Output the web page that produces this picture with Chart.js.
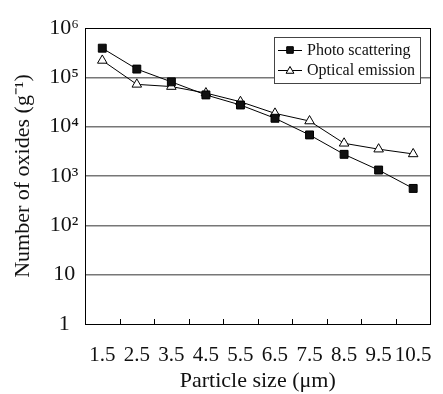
<!DOCTYPE html>
<html>
<head>
<meta charset="utf-8">
<script src="https://cdn.jsdelivr.net/npm/chart.js@4"></script>
<style>
  body { margin: 0; background: #fff; }
</style>
</head>
<body>
<canvas id="chart" width="443" height="394"></canvas>
<script>
const categories = ['1.5', '2.5', '3.5', '4.5', '5.5', '6.5', '7.5', '8.5', '9.5', '10.5'];
const photoScattering = [390000, 147000, 81000, 44000, 27500, 14800, 6800, 2750, 1320, 560];
const opticalEmission = [220000, 72000, 65000, 48000, 32000, 18600, 13000, 4600, 3500, 2800];
const yTickValues = [1, 10, 100, 1000, 10000, 100000, 1000000];
const yTickLabels = ['1', '10', '10²', '10³', '10⁴', '10⁵', '10⁶'];

// frame round the plot, inward x ticks and a boxed legend in the top right
const framePlugin = {
    id: 'frame',
    afterDraw(chart) {
        const ctx = chart.ctx;
        const a = chart.chartArea;
        const x = chart.scales.x;
        ctx.save();
        ctx.strokeStyle = '#000';
        ctx.lineWidth = 1;
        ctx.strokeRect(Math.round(a.left) + 0.5, Math.round(a.top) + 0.5, Math.round(a.right - a.left), Math.round(a.bottom - a.top));
        ctx.beginPath();
        for (let i = 1; i < categories.length; i++) {
            const px = Math.round((x.getPixelForValue(i - 1) + x.getPixelForValue(i)) / 2) + 0.5;
            ctx.moveTo(px, a.bottom);
            ctx.lineTo(px, a.bottom - 5);
        }
        ctx.stroke();

        // legend box
        const lx = 274, ly = 37, lw = 146, lh = 46;
        ctx.fillStyle = '#fff';
        ctx.fillRect(lx, ly, lw, lh);
        ctx.strokeStyle = '#444';
        ctx.strokeRect(lx + 0.5, ly + 0.5, lw, lh);
        ctx.font = '16px "Liberation Serif"';
        ctx.textBaseline = 'middle';
        ctx.fillStyle = '#111';
        chart.data.datasets.forEach((ds, i) => {
            const cy = ly + 13 + i * 20;
            ctx.strokeStyle = '#000';
            ctx.beginPath();
            ctx.moveTo(lx + 4, cy + 0.5);
            ctx.lineTo(lx + 28, cy + 0.5);
            ctx.stroke();
            Chart.helpers.drawPoint(ctx, {
                pointStyle: ds.pointStyle,
                radius: ds.pointRadius - 1
            }, lx + 16, cy + (i ? 1 : 0));
            if (ds.pointBackgroundColor) {
                ctx.fillStyle = ds.pointBackgroundColor;
                ctx.fill();
            }
            ctx.strokeStyle = '#000';
            ctx.stroke();
            ctx.fillStyle = '#111';
            ctx.fillText(ds.label, lx + 33, cy + 1);
        });
        ctx.restore();
    }
};

const ctx = document.getElementById('chart').getContext('2d');
new Chart(ctx, {
    type: 'line',
    data: {
        labels: categories,
        datasets: [{
            label: 'Photo scattering',
            data: photoScattering,
            borderColor: '#000',
            borderWidth: 1,
            backgroundColor: '#111',
            pointStyle: 'rect',
            pointRadius: 5.6,
            pointBorderColor: '#000',
            pointBackgroundColor: '#111'
        }, {
            label: 'Optical emission',
            data: opticalEmission,
            borderColor: '#000',
            borderWidth: 1,
            pointStyle: 'triangle',
            pointRadius: 5.5,
            pointBorderColor: '#000',
            pointBackgroundColor: '#fff'
        }]
    },
    options: {
        responsive: false,
        animation: false,
        layout: { padding: { left: 0, right: 9, top: 28, bottom: 0 } },
        plugins: {
            legend: { display: false },
            tooltip: { enabled: false }
        },
        scales: {
            x: {
                type: 'category',
                offset: true,
                grid: { display: false },
                border: { display: false },
                ticks: {
                    color: '#111',
                    padding: 11,
                    maxRotation: 0,
                    autoSkip: false,
                    font: { family: 'Liberation Serif', size: 21 }
                },
                title: {
                    display: true,
                    text: 'Particle size (μm)',
                    color: '#111',
                    padding: { top: 6, bottom: 0 },
                    font: { family: 'Liberation Serif', size: 22 }
                },
                afterFit(scale) { scale.height = 70; }
            },
            y: {
                type: 'logarithmic',
                min: 1,
                max: 1000000,
                afterBuildTicks(scale) {
                    scale.ticks = yTickValues.map(v => ({ value: v }));
                },
                grid: {
                    color: ctx => (ctx.tick && (ctx.tick.value === 1 || ctx.tick.value === 1000000)) ? 'rgba(0,0,0,0)' : '#777',
                    lineWidth: 1.5,
                    drawTicks: false
                },
                border: { display: false },
                ticks: {
                    color: '#111',
                    padding: 6,
                    crossAlign: 'center',
                    font: { family: 'Liberation Serif', size: 22 },
                    callback: (v) => {
                        const i = yTickValues.indexOf(v);
                        return i >= 0 ? yTickLabels[i] : '';
                    }
                },
                title: {
                    display: true,
                    text: 'Number of oxides (g⁻¹)',
                    color: '#111',
                    padding: { top: 10, bottom: 4 },
                    font: { family: 'Liberation Serif', size: 22 }
                },
                afterFit(scale) { scale.width = 85; }
            }
        }
    },
    plugins: [framePlugin]
});
</script>
</body>
</html>
